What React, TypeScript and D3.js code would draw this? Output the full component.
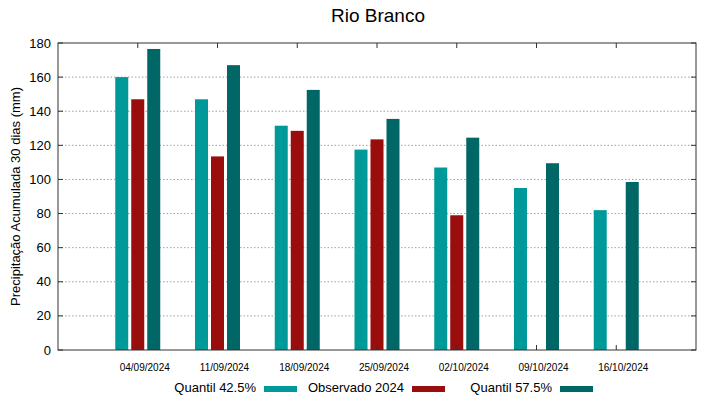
import React from 'react';
import * as d3 from 'd3';

const categories = ['04/09/2024', '11/09/2024', '18/09/2024', '25/09/2024', '02/10/2024', '09/10/2024', '16/10/2024'];
const quantil425 = [160, 147, 131.5, 117.5, 107, 95, 82];
const observado = [147, 113.5, 128.5, 123.5, 79, null, null];
const quantil575 = [176.5, 167, 152.5, 135.5, 124.5, 109.5, 98.5];
const yTicks = [0, 20, 40, 60, 80, 100, 120, 140, 160, 180];

const series = [
  { name: 'Quantil 42.5%', values: quantil425, color: '#009999', offset: -16 },
  { name: 'Observado 2024', values: observado, color: '#990d0d', offset: 0 },
  { name: 'Quantil 57.5%', values: quantil575, color: '#006666', offset: 16 },
];

const W = 719;
const H = 399;
const margin = { left: 58, right: 23, top: 43, bottom: 49 };
const font = 'Liberation Sans, Arial, sans-serif';

export default function App() {
  const x = d3.scaleLinear().domain([-1, 7]).range([margin.left, W - margin.right]);
  const y = d3.scaleLinear().domain([0, 180]).range([H - margin.bottom, margin.top]);
  const barW = 13;
  const x0 = margin.left, x1 = W - margin.right, y0 = y(0), y1 = y(180);

  return (
    <svg width={W} height={H} style={{ position: 'absolute', left: 0, top: 0 }} fontFamily={font}>
      <rect width={W} height={H} fill="#fff" />
      <text x={378} y={22} textAnchor="middle" fontSize={19}>Rio Branco</text>
      {yTicks.filter(t => t > 0 && t < 180).map(t => (
        <line key={'g' + t} x1={x0} x2={x1} y1={y(t)} y2={y(t)} stroke="#a0a0a0" strokeWidth={1} strokeDasharray="1.5,2" />
      ))}
      {series.map(s => s.values.map((v, i) => v == null ? null : (
        <rect key={s.name + i} x={x(i) + s.offset - barW / 2} y={y(v)} width={barW} height={y0 - y(v)} fill={s.color} />
      )))}
      <rect x={x0} y={y1} width={x1 - x0} height={y0 - y1} fill="none" stroke="#333" strokeWidth={1} />
      {yTicks.map(t => (
        <g key={'t' + t}>
          <line x1={x0} x2={x0 + 5} y1={y(t)} y2={y(t)} stroke="#333" />
          <line x1={x1} x2={x1 - 5} y1={y(t)} y2={y(t)} stroke="#333" />
          <text x={51} y={y(t) + 4.5} textAnchor="end" fontSize={13}>{t}</text>
        </g>
      ))}
      {categories.map((c, i) => (
        <g key={c}>
          <line x1={x(i)} x2={x(i)} y1={y0} y2={y0 - 5} stroke="#333" />
          <line x1={x(i)} x2={x(i)} y1={y1} y2={y1 + 5} stroke="#333" />
          <text x={x(i) + 7} y={371} textAnchor="middle" fontSize={10}>{c}</text>
        </g>
      ))}
      <text transform={`translate(20,${(y0 + y1) / 2}) rotate(-90)`} textAnchor="middle" fontSize={13}>
        Precipitação Acumulada 30 dias (mm)
      </text>
      <text x={256} y={392} textAnchor="end" fontSize={13}>Quantil 42.5%</text>
      <rect x={264} y={386} width={33} height={6} fill={series[0].color} />
      <text x={404} y={392} textAnchor="end" fontSize={13}>Observado 2024</text>
      <rect x={412} y={386} width={33} height={6} fill={series[1].color} />
      <text x={552} y={392} textAnchor="end" fontSize={13}>Quantil 57.5%</text>
      <rect x={560} y={386} width={33} height={6} fill={series[2].color} />
    </svg>
  );
}
